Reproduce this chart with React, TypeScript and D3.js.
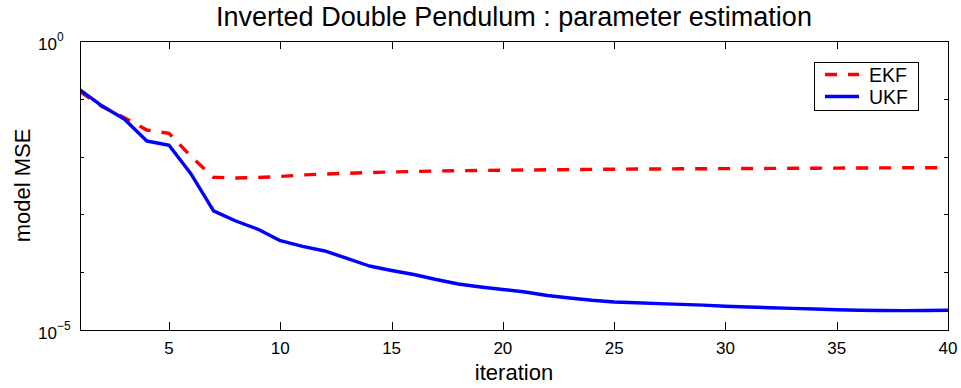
import React from "react";
import * as d3 from "d3";

const iterations = [1,2,3,4,5,6,7,8,9,10,11,12,13,14,15,16,17,18,19,20,21,22,23,24,25,26,27,28,29,30,31,32,33,34,35,36,37,38,39,40];

const ekfMSE = [0.1327, 0.073, 0.0471, 0.0288, 0.0253, 0.00996, 0.00438, 0.00426, 0.00435, 0.00453,
  0.00481, 0.005, 0.00514, 0.00529, 0.00542, 0.00552, 0.00564, 0.00571, 0.00577, 0.00582,
  0.00586, 0.00591, 0.00596, 0.00601, 0.00605, 0.0061, 0.00612, 0.00615, 0.00617, 0.0062,
  0.00622, 0.00625, 0.00627, 0.0063, 0.00632, 0.00635, 0.00637, 0.0064, 0.00641, 0.00642];

const ukfMSE = [0.142, 0.075, 0.0442, 0.0186, 0.0157, 0.00494, 0.00115, 7.69e-4, 5.52e-4, 3.51e-4,
  2.79e-4, 2.33e-4, 1.73e-4, 1.28e-4, 1.07e-4, 9.12e-5, 7.47e-5, 6.25e-5, 5.55e-5, 5.02e-5,
  4.54e-5, 3.95e-5, 3.58e-5, 3.27e-5, 3.05e-5, 2.96e-5, 2.86e-5, 2.77e-5, 2.69e-5, 2.58e-5,
  2.5e-5, 2.43e-5, 2.37e-5, 2.31e-5, 2.24e-5, 2.19e-5, 2.17e-5, 2.16e-5, 2.17e-5, 2.2e-5];

const xTicks = [5, 10, 15, 20, 25, 30, 35, 40];
const yTicks = [1, 1e-1, 1e-2, 1e-3, 1e-4, 1e-5];
const yLabelTicks = [
  { value: 1, exp: "0" },
  { value: 1e-5, exp: "\u22125" },
];

const seriesNames = ["EKF", "UKF"];

const W = 961, H = 388;
const L = 80, R = 948, T = 41, B = 330;
const FONT = "'Liberation Sans', Arial, Helvetica, sans-serif";

export default function App() {
  const x = d3.scaleLinear().domain([1, 40]).range([L, R]);
  const y = d3.scaleLog().domain([1e-5, 1]).range([B, T]);
  const line = d3.line<[number, number]>().x(d => x(d[0])).y(d => y(d[1]));
  const ekfPts = iterations.map((it, i) => [it, ekfMSE[i]] as [number, number]);
  const ukfPts = iterations.map((it, i) => [it, ukfMSE[i]] as [number, number]);

  return (
    <svg width={W} height={H} style={{ position: "absolute", left: 0, top: 0, background: "#fff" }}
      fontFamily={FONT}>
      <rect x={0} y={0} width={W} height={H} fill="#fff" />
      {/* title */}
      <text x={(L + R) / 2} y={26} textAnchor="middle" fontSize={27} fill="#000">
        Inverted Double Pendulum : parameter estimation
      </text>
      {/* data */}
      <g clipPath="url(#clip)">
        <path d={line(ekfPts) || ""} fill="none" stroke="#ff0000" strokeWidth={3.4} strokeDasharray="12,11" />
        <path d={line(ukfPts) || ""} fill="none" stroke="#0000ff" strokeWidth={3.4} strokeLinejoin="round" />
      </g>
      <defs>
        <clipPath id="clip">
          <rect x={L} y={T - 2} width={R - L} height={B - T + 4} />
        </clipPath>
      </defs>
      {/* box */}
      <rect x={L + 0.5} y={T + 0.5} width={R - L} height={B - T} fill="none" stroke="#000" strokeWidth={1} shapeRendering="crispEdges" />
      {/* x ticks */}
      {xTicks.map(t => (
        <g key={"xt" + t}>
          <line x1={Math.round(x(t)) + 0.5} x2={Math.round(x(t)) + 0.5} y1={B} y2={B - 8} stroke="#000" strokeWidth={1} shapeRendering="crispEdges" />
          <line x1={Math.round(x(t)) + 0.5} x2={Math.round(x(t)) + 0.5} y1={T} y2={T + 8} stroke="#000" strokeWidth={1} shapeRendering="crispEdges" />
          <text x={x(t)} y={354} textAnchor="middle" fontSize={17} fill="#000">{t}</text>
        </g>
      ))}
      {/* y ticks */}
      {yTicks.map(t => (
        <g key={"yt" + t}>
          <line x1={L} x2={L + 4} y1={Math.round(y(t)) + 0.5} y2={Math.round(y(t)) + 0.5} stroke="#000" strokeWidth={1} shapeRendering="crispEdges" />
          <line x1={R} x2={R - 4} y1={Math.round(y(t)) + 0.5} y2={Math.round(y(t)) + 0.5} stroke="#000" strokeWidth={1} shapeRendering="crispEdges" />
        </g>
      ))}
      {yLabelTicks.map(t => (
        <text key={"yl" + t.exp} x={38} y={y(t.value) + 8.5} fontSize={17} fill="#000">
          10<tspan dy={-9} fontSize={12}>{t.exp}</tspan>
        </text>
      ))}
      {/* axis labels */}
      <text x={(L + R) / 2} y={380} textAnchor="middle" fontSize={22} fill="#000">iteration</text>
      <text transform={`translate(30,${(T + B) / 2}) rotate(-90)`} textAnchor="middle" fontSize={22} fill="#000">model MSE</text>
      {/* legend */}
      <rect x={814.5} y={62.5} width={104} height={48} fill="#fff" stroke="#000" strokeWidth={1} shapeRendering="crispEdges" />
      <line x1={825} x2={859} y1={74.5} y2={74.5} stroke="#ff0000" strokeWidth={3.4} strokeDasharray="12,11" />
      <line x1={825} x2={859} y1={96.5} y2={96.5} stroke="#0000ff" strokeWidth={3.4} />
      <text x={869} y={82} fontSize={19.5} fill="#000">{seriesNames[0]}</text>
      <text x={869} y={104} fontSize={19.5} fill="#000">{seriesNames[1]}</text>
    </svg>
  );
}
